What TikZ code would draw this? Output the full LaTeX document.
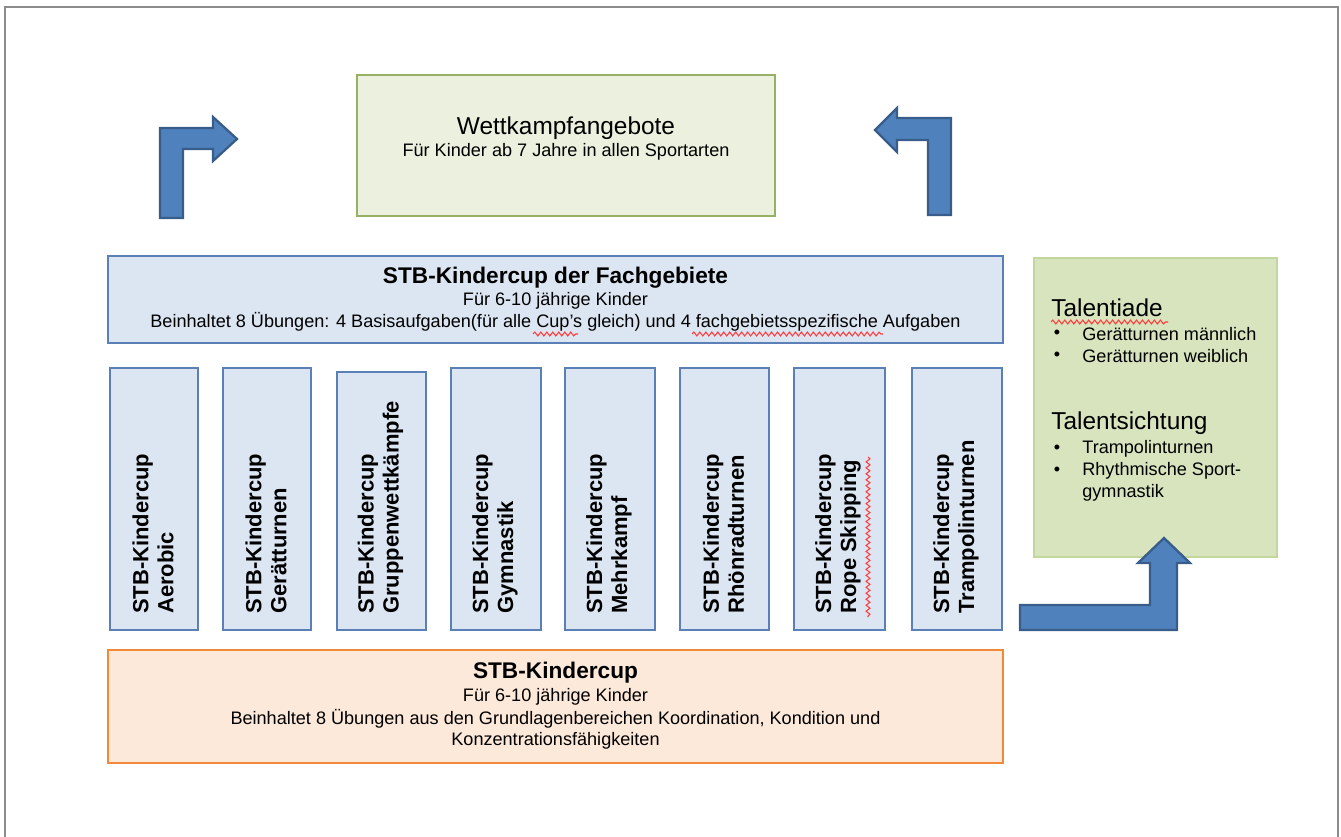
\documentclass[tikz,border=0pt]{standalone}
\usepackage{fontspec}
\setmainfont{Liberation Sans}
\usetikzlibrary{fit,decorations.pathmorphing}
\definecolor{bluefill}{HTML}{DCE6F2}
\definecolor{blueline}{HTML}{5B80B8}
\definecolor{orfill}{HTML}{FDE9D9}
\definecolor{orline}{HTML}{F0893A}
\definecolor{wfill}{HTML}{EBF1DE}
\definecolor{wline}{HTML}{98B065}
\definecolor{tfill}{HTML}{D7E4BD}
\definecolor{tline}{HTML}{C3D69B}
\definecolor{arrfill}{HTML}{4F81BD}
\definecolor{arrline}{HTML}{385D8A}
\definecolor{spell}{HTML}{FF3B3B}
\definecolor{frame}{HTML}{8C8C8C}
\tikzset{
  box/.style={draw, inner sep=0pt, line width=1pt},
  bluebox/.style={box, draw=blueline, fill=bluefill},
  orbox/.style={box, draw=orline, fill=orfill},
  wbox/.style={box, draw=wline, fill=wfill},
  tbox/.style={box, draw=tline, fill=tfill},
  small/.style={inner sep=0pt, font=\fontsize{10.3}{12.4}\selectfont},
  title/.style={inner sep=0pt, font=\fontsize{12.9}{15}\selectfont\bfseries},
  big/.style={inner sep=0pt, font=\fontsize{13.9}{16}\selectfont},
  vtext/.style={inner sep=0pt, rotate=90, anchor=west, align=left, font=\fontsize{12.5}{14.2}\selectfont\bfseries},
  blockarrow/.style={fill=arrfill, draw=arrline, line width=1.3pt, line join=miter},
  squiggle/.style={draw=spell, line width=0.6pt, decorate, decoration={snake, amplitude=1.1pt, segment length=3.4pt}},
  bul/.style={inner sep=0pt, font=\fontsize{10.3}{12}\selectfont}
}
\begin{document}
\begin{tikzpicture}[x=0.02cm, y=-0.02cm]
\useasboundingbox (0,0) rectangle (1341,837);
% page frame
\draw[frame, line width=0.9pt] (5,837) -- (5,7) -- (1338,7) -- (1338,837);

% Wettkampfangebote
\node[wbox, fit={(357,75)(775,216)}] (wett) {};
\node[big] (wettT) at (566,128) {Wettkampfangebote};
\node[small] (wettS) at (566,152) {Für Kinder ab 7 Jahre in allen Sportarten};

% Fachgebiete
\node[bluebox, fit={(108,256)(1003,343)}] (fach) {};
\node[title] (fachT) at (555.5,278) {STB-Kindercup der Fachgebiete};
\node[small] (fachS1) at (555.5,301) {Für 6-10 jährige Kinder};
\node[small] (fachS2) at (555.5,322) {Beinhaltet 8 Übungen: 4 Basisaufgaben(für alle Cup's gleich) und 4 fachgebietsspezifische Aufgaben};

% vertical boxes
\node[bluebox, fit={(110,368)(198,630)}] (c1) {};
\node[bluebox, fit={(223,368)(311,630)}] (c2) {};
\node[bluebox, fit={(337,372)(426,630)}] (c3) {};
\node[bluebox, fit={(451,368)(541,630)}] (c4) {};
\node[bluebox, fit={(565,368)(655,630)}] (c5) {};
\node[bluebox, fit={(680,368)(769,630)}] (c6) {};
\node[bluebox, fit={(794,368)(885,630)}] (c7) {};
\node[bluebox, fit={(912,368)(1002,630)}] (c8) {};
\node[vtext] (t1) at (153,614) {STB-Kindercup\\Aerobic};
\node[vtext] (t2) at (266,614) {STB-Kindercup\\Gerätturnen};
\node[vtext] (t3) at (380.5,614) {STB-Kindercup\\Gruppenwettkämpfe};
\node[vtext] (t4) at (495,614) {STB-Kindercup\\Gymnastik};
\node[vtext] (t5) at (609,614) {STB-Kindercup\\Mehrkampf};
\node[vtext] (t6) at (723.5,614) {STB-Kindercup\\Rhönradturnen};
\node[vtext] (t7) at (838,614) {STB-Kindercup\\Rope Skipping};
\node[vtext] (t8) at (956,614) {STB-Kindercup\\Trampolinturnen};

% bottom box
\node[orbox, fit={(108,650)(1003,763)}] (kc) {};
\node[title] (kcT) at (555.5,673) {STB-Kindercup};
\node[small] (kcS1) at (555.5,697) {Für 6-10 jährige Kinder};
\node[small] (kcS2) at (555.5,719) {Beinhaltet 8 Übungen aus den Grundlagenbereichen Koordination, Kondition und};
\node[small] (kcS3) at (555.5,741) {Konzentrationsfähigkeiten};

% talent box
\node[tbox, fit={(1034,258)(1277,557)}] (tal) {};
\node[big, anchor=west] (ta) at (1051,308) {Talentiade};
\node[bul] (b1) at (1057,334) {•};
\node[small, anchor=west] (ta1) at (1082,334) {Gerätturnen männlich};
\node[bul] (b2) at (1057,356) {•};
\node[small, anchor=west] (ta2) at (1082,356) {Gerätturnen weiblich};
\node[big, anchor=west] (ts) at (1051,423) {Talentsichtung};
\node[bul] (b3) at (1057,449) {•};
\node[small, anchor=west] (ts1) at (1082,449) {Trampolinturnen};
\node[bul] (b4) at (1057,471) {•};
\node[small, anchor=west] (ts2) at (1082,471) {Rhythmische Sport-};
\node[small, anchor=west] (ts3) at (1082,493) {gymnastik};

% spell-check squiggles
\draw[squiggle] (1051,322) -- (1168,322);
\draw[squiggle] (533,334) -- (578,334);
\draw[squiggle] (692,334) -- (883,334);
\draw[squiggle] (868,457) -- (868,617);

% block arrows
\draw[blockarrow] (160,218) -- (160,128) -- (213,128) -- (213,117) -- (237,139) -- (213,161) -- (213,149) -- (183,149) -- (183,218) -- cycle;
\draw[blockarrow] (951,215) -- (951,118) -- (897,118) -- (897,108) -- (875,130) -- (897,152) -- (897,140) -- (928,140) -- (928,215) -- cycle;
\draw[blockarrow] (1020,605) -- (1150,605) -- (1150,563) -- (1138,563) -- (1164,538) -- (1190,563) -- (1177,563) -- (1177,630) -- (1020,630) -- cycle;
\end{tikzpicture}
\end{document}
